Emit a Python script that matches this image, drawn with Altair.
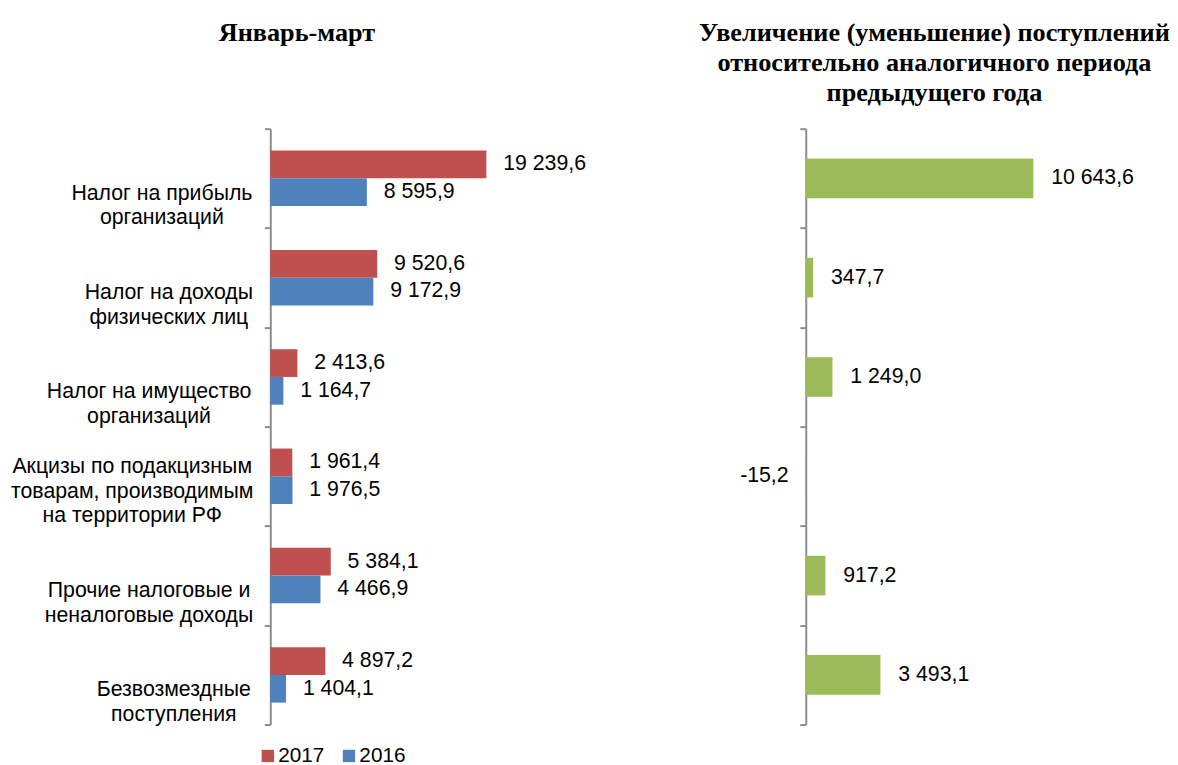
import altair as alt
import pandas as pd

categories = [
    "Налог на прибыль|организаций",
    "Налог на доходы|физических лиц",
    "Налог на имущество|организаций",
    "Акцизы по подакцизным|товарам, производимым|на территории РФ",
    "Прочие налоговые и|неналоговые доходы",
    "Безвозмездные|поступления",
]
years = ["2017", "2016"]
values_2017 = [19239.6, 9520.6, 2413.6, 1961.4, 5384.1, 4897.2]
values_2016 = [8595.9, 9172.9, 1164.7, 1976.5, 4466.9, 1404.1]
change = [10643.6, 347.7, 1249.0, -15.2, 917.2, 3493.1]
title_left = "Январь-март"
title_right = [
    "Увеличение (уменьшение) поступлений",
    "относительно аналогичного периода",
    "предыдущего года",
]


def fmt(v):
    s = f"{abs(v):,.1f}".replace(",", " ").replace(".", ",")
    return ("-" if v < 0 else "") + s


RED, BLUE, GREEN = "#C0504D", "#4F81BD", "#9BBB59"
AXC = "#8c8c8c"
SANS = "Liberation Sans"
SERIF = "Liberation Serif"
FS = 21.5
TFS = 26.5
H = 602
W1 = 320
W2 = 340

# distance from tick end to the centre of each (centred) category label
label_pad = [104, 97, 117, 134, 117, 92]

long = pd.DataFrame({
    "cat": categories * 2,
    "year": [years[0]] * len(categories) + [years[1]] * len(categories),
    "value": values_2017 + values_2016,
})
long["label"] = long["value"].map(fmt)

right_df = pd.DataFrame({"cat": categories, "change": change})
right_df["label"] = right_df["change"].map(fmt)


def yaxis(labels=True):
    kw = dict(
        title=None, tickBand="extent", tickSize=6, tickColor=AXC, tickWidth=2,
        domainColor=AXC, domainWidth=2, grid=False,
    )
    if labels:
        kw.update(
            labelExpr="split(datum.label, '|')", labelAlign="center",
            labelBaseline="middle",
            labelOffset={
                "condition": {"test": "length(split(datum.value, '|')) > 2", "value": -10},
                "value": 15,
            },
            labelPadding={
                "condition": [
                    {"test": f"datum.value === '{c}'", "value": p}
                    for c, p in zip(categories, label_pad)
                ],
                "value": 100,
            },
            labelFont=SANS, labelFontSize=FS, labelColor="black",
            labelLineHeight=25, labelLimit=400,
        )
    else:
        kw.update(labels=False)
    return alt.Axis(**kw)


yscale = alt.Scale(domain=categories, paddingInner=0, paddingOuter=0)

xl = alt.X("value:Q", scale=alt.Scale(domain=[0, 28200], nice=False), axis=None)
yl = alt.Y("cat:N", sort=categories, scale=yscale, axis=yaxis(True))
yo = alt.YOffset("year:N", sort=years, scale=alt.Scale(domain=years, paddingOuter=0.79, paddingInner=0))

left_bars = alt.Chart(long).mark_bar().encode(
    x=xl, y=yl, yOffset=yo,
    color=alt.Color(
        "year:N", sort=years,
        scale=alt.Scale(domain=years, range=[RED, BLUE]),
        legend=alt.Legend(
            orient="none", legendX=-13, legendY=623, direction="horizontal",
            title=None, symbolType="square", symbolSize=155, symbolStrokeWidth=0,
            labelFontSize=21, labelFont=SANS, labelColor="black",
            columnPadding=14, labelOffset=0, padding=0,
        ),
    ),
)
left_text = alt.Chart(long).mark_text(
    align="left", baseline="middle", dx=17, fontSize=FS, font=SANS, color="black"
).encode(x=xl, y=yl, yOffset=yo, text="label:N")
left_title = alt.Chart(pd.DataFrame({"t": [title_left]})).mark_text(
    font=SERIF, fontSize=TFS, fontWeight="bold", align="center", baseline="top", color="black"
).encode(x=alt.value(27), y=alt.value(-110), text="t:N")

left = alt.layer(left_bars, left_text, left_title).properties(width=W1, height=H)

xr = alt.X("change:Q", scale=alt.Scale(domain=[0, 15740], nice=False), axis=None)
yr = alt.Y("cat:N", sort=categories, scale=yscale, axis=yaxis(False))

right_bars = alt.Chart(right_df).mark_bar(size=40, color=GREEN).encode(x=xr, y=yr)
right_pos = alt.Chart(right_df).transform_filter("datum.change >= 0").mark_text(
    align="left", baseline="middle", dx=18, fontSize=FS, font=SANS, color="black"
).encode(x=xr, y=yr, text="label:N")
right_neg = alt.Chart(right_df).transform_filter("datum.change < 0").mark_text(
    align="right", baseline="middle", dx=-17, fontSize=FS, font=SANS, color="black"
).encode(x=xr, y=yr, text="label:N")
right_title = alt.Chart(pd.DataFrame({"t": [title_right]})).mark_text(
    font=SERIF, fontSize=TFS, fontWeight="bold", align="center", baseline="top",
    lineHeight=30.5, color="black"
).encode(x=alt.value(130), y=alt.value(-110), text="t:N")

right = alt.layer(right_bars, right_pos, right_neg, right_title).properties(width=W2, height=H)

chart = alt.hconcat(left, right, spacing=113).properties(
    padding={"left": 2, "top": 8, "right": 0, "bottom": 0}
).configure_view(stroke=None)

chart.save("out.html", embed_options={"renderer": "svg", "actions": False})
